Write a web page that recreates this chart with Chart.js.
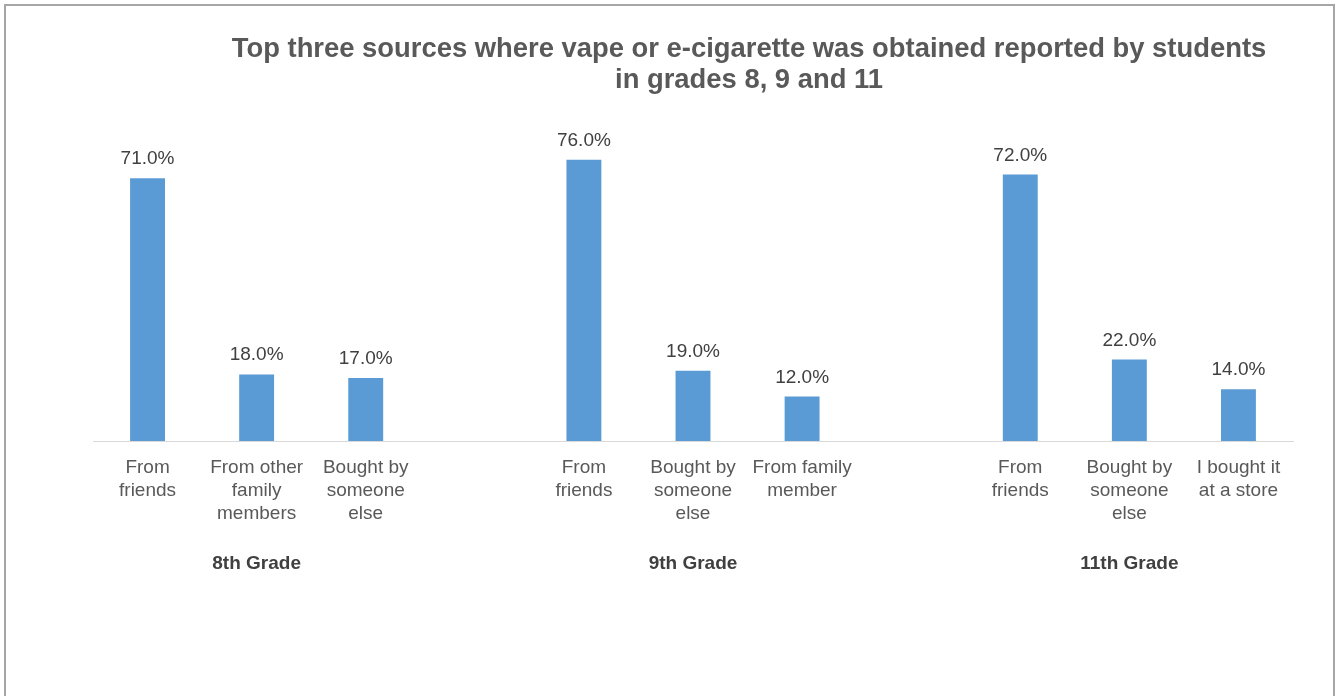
<!DOCTYPE html>
<html>
<head>
<meta charset="utf-8">
<script src="https://cdn.jsdelivr.net/npm/chart.js@4.4.1/dist/chart.umd.min.js"></script>
<style>
    html, body { margin: 0; padding: 0; background: #fff; overflow: hidden; }
    #frame { position: absolute; left: 4px; top: 4px; width: 1331px; height: 730px; border: 2px solid #a6a6a6; box-sizing: border-box; }
    #wrap { position: absolute; left: 0; top: 0; width: 1336px; height: 696px; }
</style>
</head>
<body>
<div id="frame"></div>
<div id="wrap"><canvas id="chart"></canvas></div>
<script>
// sources per grade, blank slot between the grade groups
const sources = [
    ['From', 'friends'], ['From other', 'family', 'members'], ['Bought by', 'someone', 'else'],
    '',
    ['From', 'friends'], ['Bought by', 'someone', 'else'], ['From family', 'member'],
    '',
    ['From', 'friends'], ['Bought by', 'someone', 'else'], ['I bought it', 'at a store']
];
const shares = [71, 18, 17, null, 76, 19, 12, null, 72, 22, 14];
const gradeTicks = ['', '8th Grade', '', '', '', '9th Grade', '', '', '', '11th Grade', ''];
const titleLines = ['Top three sources where vape or e-cigarette was obtained reported by students', 'in grades 8, 9 and 11'];

const FONT = '"Liberation Sans", Arial, sans-serif';

document.addEventListener('DOMContentLoaded', init);

function init() {
    const ctx = document.getElementById('chart').getContext('2d');

    const titlePlugin = {
        id: 'titleText',
        afterDraw(chart) {
            const c = chart.ctx;
            c.save();
            c.font = 'bold 27.4px ' + FONT;
            c.fillStyle = '#595959';
            c.textAlign = 'center';
            c.textBaseline = 'alphabetic';
            c.fillText(titleLines[0], 749, 57);
            c.fillText(titleLines[1], 749, 88);
            c.restore();
        }
    };

    const valueLabels = {
        id: 'valueLabels',
        afterDatasetsDraw(chart) {
            const c = chart.ctx;
            const meta = chart.getDatasetMeta(0);
            c.save();
            c.font = '19px ' + FONT;
            c.fillStyle = '#404040';
            c.textAlign = 'center';
            c.textBaseline = 'alphabetic';
            meta.data.forEach((bar, i) => {
                const v = shares[i];
                if (v == null) return;
                c.fillText(v.toFixed(1) + '%', bar.x, bar.y - 14);
            });
            c.restore();
        }
    };

    new Chart(ctx, {
        type: 'bar',
        data: {
            labels: sources,
            datasets: [
                {
                    data: shares,
                    backgroundColor: '#5B9BD5',
                    barPercentage: 0.32,
                    categoryPercentage: 1
                }
            ]
        },
        options: {
            responsive: true,
            maintainAspectRatio: false,
            animation: false,
            layout: {
                padding: { left: 93, right: 43, top: 145, bottom: 105 }
            },
            plugins: {
                legend: { display: false },
                title: { display: false },
                tooltip: { enabled: false }
            },
            scales: {
                x: {
                    grid: { display: false, drawTicks: false },
                    border: { display: true, color: '#d9d9d9', width: 1 },
                    ticks: {
                        color: '#595959',
                        font: { family: FONT, size: 19, lineHeight: 1.21 },
                        padding: 15,
                        maxRotation: 0,
                        autoSkip: false
                    },
                    afterFit: (scale) => { scale.height = 110; }
                },
                x2: {
                    type: 'category',
                    labels: gradeTicks,
                    position: 'bottom',
                    grid: { display: false, drawTicks: false },
                    border: { display: false },
                    ticks: {
                        color: '#404040',
                        font: { family: FONT, size: 19, weight: 'bold' },
                        padding: 1,
                        maxRotation: 0,
                        autoSkip: false
                    },
                    afterFit: (scale) => { scale.height = 40; }
                },
                y: {
                    display: false,
                    min: 0,
                    max: 80
                }
            }
        },
        plugins: [titlePlugin, valueLabels]
    });
}
</script>
</body>
</html>
